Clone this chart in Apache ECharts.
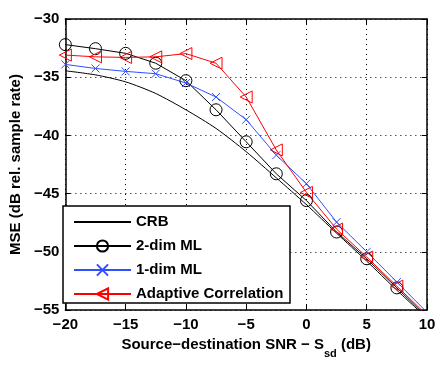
<!DOCTYPE html>
<html>
<head>
<meta charset="utf-8">
<script src="https://cdn.jsdelivr.net/npm/echarts@6/dist/echarts.min.js"></script>
<style>
  html, body { margin: 0; padding: 0; background: #fff; }
  #chart { width: 443px; height: 365px; }
</style>
</head>
<body>
<div id="chart"></div>
<script>
// Source-destination SNR (dB)
var snr = [-20, -17.5, -15, -12.5, -10, -7.5, -5, -2.5, 0, 2.5, 5, 7.5, 10]
var crb = [-34.45, -34.8, -35.4, -36.4, -37.8, -39.4, -41.4, -43.65, -45.95, -48.4, -50.8, -53.3, -55.7]
var ml2 = [-32.2, -32.55, -32.95, -33.8, -35.3, -37.8, -40.55, -43.3, -45.6, -48.3, -50.6, -53.1, -55.6]
var ml1 = [-33.9, -34.25, -34.5, -34.7, -35.5, -36.7, -38.65, -41.7, -44.15, -47.45, -50.0, -52.6, -55.2]
var adapt = [-33.1, -33.25, -33.3, -33.25, -32.97, -33.8, -36.7, -41.25, -44.9, -48.05, -50.45, -52.95, -55.45]
var seriesNames = ['CRB', '2-dim ML', '1-dim ML', 'Adaptive Correlation']

var FONT = '"Liberation Sans", Arial, Helvetica, sans-serif'
var BLUE = '#2f4fff'

function pairs(ys) {
  return snr.map(function (x, i) { return [x, ys[i]] })
}
function minusFmt(v) {
  return v < 0 ? '\u2212' + Math.abs(v) : String(v)
}

var chart = echarts.init(document.getElementById('chart'))

var tickStyle = { show: true, inside: true, length: 5, lineStyle: { color: '#000', width: 1 } }
var lineStyle = { show: true, onZero: false, lineStyle: { color: '#000', width: 1.5 } }
var gridStyle = { show: true, lineStyle: { color: '#000', width: 1, type: [1, 4] } }
var labelStyle = { color: '#000', fontFamily: FONT, fontWeight: 'bold', fontSize: 15 }

var option = {
  animation: false,
  backgroundColor: '#fff',
  grid: { left: 59, right: 16, top: 19, bottom: 55 },
  xAxis: [
    {
      type: 'value', min: -20, max: 10, interval: 5,
      axisLine: lineStyle, axisTick: tickStyle, splitLine: gridStyle,
      axisLabel: Object.assign({ margin: 7, formatter: minusFmt }, labelStyle),
      name: '{n|Source\u2212destination SNR \u2212 S}{sub|sd}{n| (dB)}',
      nameLocation: 'middle',
      nameGap: 27,
      nameTextStyle: {
        rich: {
          n: { fontFamily: FONT, fontWeight: 'bold', fontSize: 15, color: '#000', lineHeight: 18, verticalAlign: 'top' },
          sub: { fontFamily: FONT, fontWeight: 'bold', fontSize: 11, color: '#000', lineHeight: 11, verticalAlign: 'top', padding: [11, 0, 0, 0] }
        }
      }
    },
    {
      type: 'value', position: 'top', min: -20, max: 10, interval: 5,
      axisLine: lineStyle, axisTick: tickStyle, splitLine: { show: false },
      axisLabel: { show: false }
    }
  ],
  yAxis: [
    {
      type: 'value', min: -55, max: -30, interval: 5,
      axisLine: lineStyle, axisTick: tickStyle, splitLine: gridStyle,
      axisLabel: Object.assign({ margin: 6, formatter: minusFmt }, labelStyle),
      name: 'MSE (dB rel. sample rate)',
      nameLocation: 'middle',
      nameGap: 38,
      nameTextStyle: labelStyle
    },
    {
      type: 'value', position: 'right', min: -55, max: -30, interval: 5,
      axisLine: lineStyle, axisTick: tickStyle, splitLine: { show: false },
      axisLabel: { show: false }
    }
  ],
  graphic: [
    {
      type: 'rect', z: 3,
      shape: { x: 63, y: 206, width: 227, height: 97 },
      style: { fill: '#fff', stroke: '#000', lineWidth: 1.5 }
    }
  ],
  legend: {
    z: 4,
    orient: 'vertical',
    left: 73, top: 214.5,
    padding: 0,
    itemWidth: 57, itemHeight: 14, itemGap: 9,
    data: [
      { name: seriesNames[0], itemStyle: { color: 'transparent', borderColor: 'transparent', borderWidth: 0 } },
      { name: seriesNames[1] },
      { name: seriesNames[2] },
      { name: seriesNames[3] }
    ],
    textStyle: { color: '#000', fontFamily: FONT, fontWeight: 'bold', fontSize: 15 }
  },
  series: [
    {
      name: seriesNames[0], type: 'line', data: pairs(crb),
      smooth: 0.25, symbol: 'none', clip: true,
      lineStyle: { color: '#000', width: 1 }, itemStyle: { color: '#000' }
    },
    {
      name: seriesNames[1], type: 'line', data: pairs(ml2), clip: true,
      symbol: 'circle', symbolSize: 12,
      lineStyle: { color: '#000', width: 1 },
      itemStyle: { color: 'transparent', borderColor: '#000', borderWidth: 1 }
    },
    {
      name: seriesNames[2], type: 'line', data: pairs(ml1), clip: true,
      symbol: 'path://M0,0L10,10M10,0L0,10', symbolSize: 8,
      lineStyle: { color: BLUE, width: 1 },
      itemStyle: { color: 'transparent', borderColor: BLUE, borderWidth: 1 }
    },
    {
      name: seriesNames[3], type: 'line', data: pairs(adapt), clip: true,
      symbol: 'path://M0,5L10,0L10,10Z', symbolSize: 12,
      lineStyle: { color: '#ff0000', width: 1 },
      itemStyle: { color: 'transparent', borderColor: '#ff0000', borderWidth: 1 }
    }
  ]
}

chart.setOption(option)
</script>
</body>
</html>
